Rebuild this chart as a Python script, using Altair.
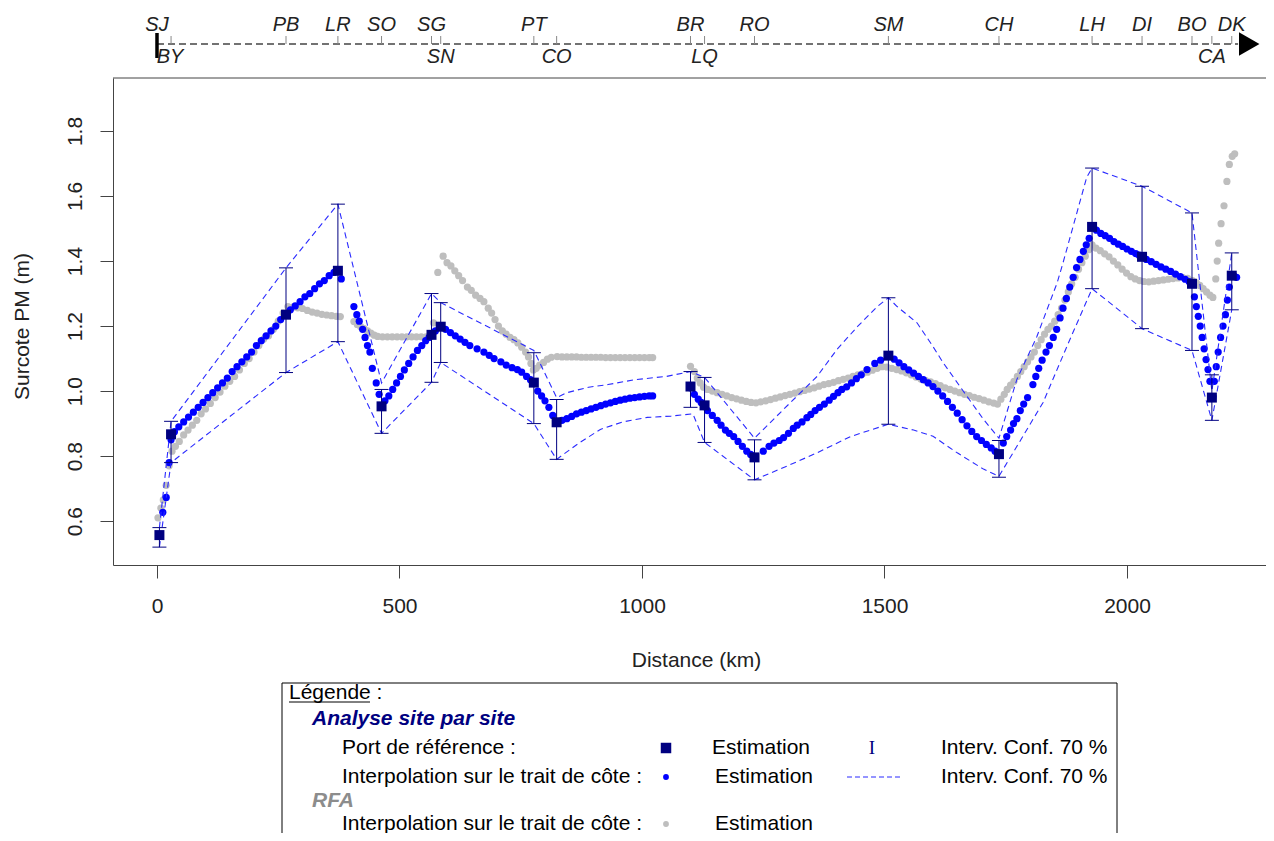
import altair as alt
import pandas as pd

# ---------------- data ----------------
site_names = ["SJ", "BY", "PB", "LR", "SO", "SG", "SN", "PT", "CO", "BR",
              "LQ", "RO", "SM", "CH", "LH", "DI", "BO", "CA", "DK"]
site_dist = [5, 29, 266, 373, 463, 566, 585, 777, 824, 1100,
             1129, 1232, 1508, 1736, 1928, 2031, 2134, 2175, 2216]
site_est = [0.557, 0.867, 1.235, 1.37, 0.953, 1.173, 1.198, 1.026, 0.904, 1.014,
            0.956, 0.796, 1.109, 0.806, 1.505, 1.413, 1.33, 0.98, 1.355]
site_lo = [0.52, 0.78, 1.057, 1.152, 0.87, 1.027, 1.088, 0.90, 0.79, 0.95,
           0.842, 0.727, 0.898, 0.735, 1.315, 1.192, 1.125, 0.91, 1.25]
site_hi = [0.58, 0.907, 1.379, 1.575, 1.005, 1.30, 1.272, 1.118, 0.974, 1.06,
           1.042, 0.85, 1.287, 0.848, 1.686, 1.63, 1.548, 1.05, 1.425]
site_label_pos = ["top", "bottom", "top", "top", "top", "top", "bottom", "top", "bottom", "top",
                  "bottom", "top", "top", "top", "top", "top", "top", "bottom", "top"]
label_dist = [0, 27, 266, 373, 463, 566, 585, 777, 824, 1100,
              1129, 1232, 1508, 1736, 1928, 2031, 2134, 2175, 2216]

blue_dist = [5, 12, 19, 25, 29, 36, 45, 55, 65, 75, 85, 95, 105, 115, 125, 135, 145, 155, 165, 175,
             185, 195, 205, 215, 225, 235, 245, 255, 265, 275, 285, 295, 305, 315, 325, 335, 345, 355,
             365, 373, 380,
             406, 412, 417, 424, 429, 434, 439, 444, 452, 458,
             470, 478, 486, 494, 502, 510, 519, 528, 537, 546, 554, 561,
             574, 595, 605, 615, 625, 635, 645, 660, 674, 685, 695, 709, 720, 732, 743, 752, 762, 770,
             785, 793, 800, 808, 816,
             835, 845, 855, 865, 875, 885, 895, 905, 915, 925, 935, 945, 955, 965, 975, 985, 995,
             1005, 1015, 1022,
             1100, 1108, 1116, 1122, 1135, 1145, 1155, 1163, 1172, 1180, 1189, 1198, 1207, 1216, 1224,
             1250, 1262, 1272, 1283, 1292, 1302, 1312, 1320, 1330, 1340, 1348, 1357, 1366, 1376, 1386,
             1395, 1404, 1412, 1422, 1432, 1442, 1452, 1464, 1480, 1492,
             1520, 1530, 1540, 1550, 1560, 1570, 1580, 1590, 1600, 1610, 1620, 1630, 1640, 1650, 1660,
             1670, 1680, 1690, 1700, 1710, 1720, 1728,
             1745, 1752, 1760, 1766, 1773, 1780, 1787, 1795, 1806, 1812, 1818, 1825, 1833, 1840, 1848,
             1855, 1862, 1868, 1875, 1882, 1889, 1896, 1903, 1910, 1916, 1922,
             1937, 1946, 1955, 1964, 1973, 1982, 1991, 2000, 2009, 2018, 2025, 2040, 2050, 2060, 2070,
             2080, 2090, 2100, 2110, 2120, 2128,
             2139, 2143, 2147, 2151, 2155, 2159, 2163, 2167, 2171,
             2180, 2184, 2188, 2193, 2198, 2203, 2207, 2211, 2220, 2226]
blue_val = [0.557, 0.627, 0.673, 0.78, 0.85, 0.875, 0.89, 0.905, 0.92, 0.935, 0.95, 0.965, 0.98, 0.995,
            1.01, 1.025, 1.04, 1.06, 1.075, 1.09, 1.105, 1.12, 1.14, 1.155, 1.17, 1.185, 1.20, 1.22,
            1.235, 1.25, 1.262, 1.275, 1.29, 1.30, 1.315, 1.33, 1.34, 1.355, 1.365, 1.37, 1.345,
            1.26, 1.235, 1.215, 1.19, 1.165, 1.14, 1.12, 1.07, 1.025, 0.99,
            0.97, 0.985, 1.005, 1.025, 1.045, 1.065, 1.085, 1.105, 1.125, 1.14, 1.155, 1.165,
            1.185, 1.19, 1.18, 1.17, 1.16, 1.15, 1.14, 1.13, 1.12, 1.11, 1.10, 1.09, 1.08, 1.072, 1.066,
            1.058, 1.045, 1.035,
            1.0, 0.985, 0.97, 0.95, 0.925,
            0.91, 0.915, 0.922, 0.93, 0.935, 0.94, 0.945, 0.95, 0.955, 0.96, 0.964, 0.968, 0.972, 0.975,
            0.978, 0.98, 0.982, 0.984, 0.985, 0.985,
            1.01, 0.99, 0.975, 0.965, 0.94, 0.925, 0.91, 0.895, 0.88, 0.87, 0.86, 0.845, 0.83, 0.815, 0.805,
            0.815, 0.83, 0.84, 0.848, 0.857, 0.87, 0.885, 0.895, 0.905, 0.918, 0.928, 0.94, 0.95, 0.96,
            0.972, 0.984, 0.995, 1.005, 1.013, 1.025, 1.038, 1.05, 1.066, 1.085, 1.095,
            1.098, 1.087, 1.075, 1.065, 1.055, 1.045, 1.035, 1.025, 1.014, 1.0, 0.985, 0.968, 0.95, 0.932,
            0.912, 0.893, 0.876, 0.86, 0.848, 0.836, 0.825, 0.815,
            0.84, 0.86, 0.88, 0.9, 0.915, 0.94, 0.96, 0.98, 1.02, 1.045, 1.07, 1.095, 1.12, 1.14, 1.165,
            1.19, 1.225, 1.255, 1.285, 1.32, 1.35, 1.38, 1.405, 1.43, 1.45, 1.47,
            1.495, 1.485, 1.478, 1.47, 1.46, 1.452, 1.445, 1.437, 1.43, 1.423, 1.418, 1.405, 1.398, 1.39,
            1.382, 1.375, 1.368, 1.36, 1.352, 1.344, 1.337,
            1.29, 1.26, 1.23, 1.2, 1.165, 1.13, 1.097, 1.066, 1.03,
            1.03, 1.075, 1.12, 1.165, 1.2, 1.235, 1.28, 1.32, 1.355, 1.35]

gray_dist = [2, 8, 13, 19, 25, 31, 38, 46, 55, 64, 73, 82, 91, 100, 110, 120, 130, 140, 150, 160, 170,
             180, 190, 200, 210, 220, 230, 240, 250, 260, 270, 280, 290, 300, 310, 320, 330, 340, 350,
             360, 370, 378,
             406, 413, 420, 427, 434, 441, 448, 455, 465, 475, 485, 495, 505, 515, 525, 535, 545, 555,
             563, 570,
             579, 590, 598, 606, 614, 622, 630, 640, 648, 657, 666, 674, 683, 690, 697, 704, 712, 720,
             728, 736, 744, 752, 760, 766, 771, 776, 782, 789, 797, 805, 813, 825, 835, 845, 855, 865,
             875, 885, 895, 905, 915, 925, 935, 945, 955, 965, 975, 985, 995, 1005, 1015, 1022,
             1100, 1108, 1114, 1120, 1127, 1135, 1145, 1155, 1165, 1175, 1185, 1195, 1205, 1215, 1225,
             1235, 1245, 1255, 1265, 1275, 1285, 1295, 1305, 1315, 1325, 1335, 1345, 1355, 1365, 1375,
             1385, 1395, 1405, 1415, 1425, 1435, 1445, 1455, 1465, 1475, 1485, 1495, 1505, 1515, 1525,
             1535, 1545, 1555, 1565, 1575, 1585, 1595, 1605, 1615, 1625, 1635, 1645, 1655, 1665, 1675,
             1685, 1695, 1705, 1715, 1725, 1733, 1740, 1747, 1753, 1760, 1767, 1774, 1781, 1788, 1795,
             1802, 1809, 1816, 1823, 1830, 1837, 1844, 1851, 1858, 1865, 1872, 1879, 1886, 1893, 1900,
             1907, 1914, 1921, 1928, 1936, 1945, 1954, 1963, 1972, 1981, 1990, 1999, 2008, 2017, 2026,
             2035, 2045, 2055, 2065, 2075, 2085, 2095, 2105, 2115, 2125, 2135, 2143, 2150, 2157, 2164,
             2171, 2177,
             2183, 2186, 2189, 2194, 2200, 2206, 2211, 2217, 2222]
gray_val = [0.61, 0.64, 0.665, 0.71, 0.77, 0.815, 0.83, 0.845, 0.865, 0.88, 0.895, 0.91, 0.93, 0.945,
            0.962, 0.98, 0.997, 1.015, 1.03, 1.045, 1.065, 1.085, 1.10, 1.12, 1.14, 1.16, 1.17, 1.19,
            1.215, 1.24, 1.26, 1.258, 1.256, 1.254, 1.248, 1.243, 1.24, 1.236, 1.234, 1.232, 1.23, 1.229,
            1.214, 1.205, 1.198, 1.192, 1.185, 1.178, 1.172, 1.168, 1.167, 1.167, 1.167, 1.167, 1.167,
            1.167, 1.167, 1.167, 1.167, 1.167, 1.167, 1.21,
            1.365, 1.415, 1.395, 1.385, 1.37, 1.355, 1.34, 1.32, 1.31, 1.295, 1.285, 1.275, 1.255, 1.24,
            1.22, 1.2, 1.185, 1.175, 1.165, 1.158, 1.148, 1.135, 1.12, 1.105, 1.085, 1.065, 1.07, 1.08,
            1.088, 1.098, 1.104, 1.106, 1.105, 1.105, 1.105, 1.105, 1.104, 1.104, 1.104, 1.104, 1.104,
            1.103, 1.103, 1.103, 1.103, 1.103, 1.103, 1.103, 1.103, 1.103, 1.103, 1.103,
            1.076, 1.06, 1.04, 1.025, 1.012, 1.005, 1.0, 0.995, 0.99, 0.985, 0.98, 0.976, 0.972, 0.968,
            0.965, 0.964, 0.967, 0.97, 0.974, 0.978, 0.982, 0.986, 0.99, 0.994, 0.998, 1.002, 1.006, 1.01,
            1.015, 1.02, 1.023, 1.027, 1.032, 1.036, 1.04, 1.045, 1.05, 1.054, 1.058, 1.064, 1.07, 1.075,
            1.074, 1.07, 1.066, 1.062, 1.056, 1.05, 1.043, 1.037, 1.032, 1.028, 1.023, 1.017, 1.01, 1.005,
            1.0, 0.995, 0.99, 0.986, 0.981, 0.977, 0.972, 0.967, 0.963, 0.96, 0.975, 0.99, 1.005, 1.018,
            1.03, 1.045, 1.06, 1.075, 1.09, 1.105, 1.12, 1.14, 1.158, 1.175, 1.19, 1.2, 1.215, 1.235,
            1.255, 1.28, 1.305, 1.33, 1.35, 1.375, 1.395, 1.415, 1.435, 1.45, 1.44, 1.432, 1.422, 1.413,
            1.4, 1.388, 1.375, 1.363, 1.352, 1.345, 1.34, 1.337, 1.336, 1.338, 1.34, 1.342, 1.344, 1.346,
            1.348, 1.349, 1.347, 1.34, 1.333, 1.325, 1.315, 1.305, 1.295, 1.288,
            1.345, 1.40, 1.455, 1.515, 1.57, 1.645, 1.697, 1.722, 1.73]

ci_up_dist = [5, 29, 266, 373, 463, 566, 585, 777, 824, 845, 890, 930, 985, 1050, 1100, 1129, 1232,
              1292, 1361, 1402, 1444, 1485, 1508, 1526, 1567, 1600, 1621, 1670, 1704, 1736, 1773,
              1814, 1856, 1868, 1917, 1928, 2031, 2134, 2175, 2216]
ci_up_val = [0.58, 0.907, 1.379, 1.575, 1.025, 1.30, 1.272, 1.125, 0.98, 0.995, 1.012, 1.02, 1.035,
             1.045, 1.06, 1.042, 0.855, 0.944, 1.045, 1.128, 1.198, 1.26, 1.287, 1.26, 1.21, 1.137,
             1.087, 0.984, 0.913, 0.855, 1.036, 1.167, 1.333, 1.394, 1.658, 1.686, 1.63, 1.548, 1.0,
             1.425]
ci_lo_dist = [5, 29, 266, 373, 463, 566, 585, 777, 824, 870, 914, 960, 1011, 1060, 1105, 1129, 1232,
              1300, 1361, 1430, 1508, 1560, 1600, 1650, 1704, 1736, 1773, 1827, 1876, 1928, 2031,
              2134, 2175, 2216]
ci_lo_val = [0.52, 0.78, 1.057, 1.152, 0.87, 1.027, 1.088, 0.90, 0.79, 0.84, 0.882, 0.905, 0.919,
             0.923, 0.93, 0.842, 0.727, 0.77, 0.81, 0.86, 0.898, 0.88, 0.861, 0.81, 0.76, 0.738, 0.83,
             0.965, 1.137, 1.315, 1.192, 1.125, 0.91, 1.25]

x_ticks = [0, 500, 1000, 1500, 2000]
y_ticks = [0.6, 0.8, 1.0, 1.2, 1.4, 1.6, 1.8]
x_domain = [-90.7, 2286.6]
y_domain = [0.465, 1.963]
strip_start, strip_end, arrow_at = 0, 2229, 2252

# ---------------- tables ----------------
ports = pd.DataFrame({"name": site_names, "d": site_dist, "v": site_est,
                      "lo": site_lo, "hi": site_hi})
labels = pd.DataFrame({"name": site_names, "d": label_dist, "pos": site_label_pos})
blue = pd.DataFrame({"d": blue_dist, "v": blue_val})
gray = pd.DataFrame({"d": gray_dist, "v": gray_val})
ci_up = pd.DataFrame({"d": ci_up_dist, "v": ci_up_val})
ci_lo = pd.DataFrame({"d": ci_lo_dist, "v": ci_lo_val})
strip = pd.DataFrame({"d": [strip_start], "d2": [strip_end]})
arrow = pd.DataFrame({"d": [arrow_at]})
one = pd.DataFrame({"k": [0]})

W, H = 1153, 487
FONT = "Liberation Sans"
NAVY = "#000080"
BLUE = "#0000FF"
GRAY = "#BEBEBE"
DASH = "#2B2BFF"
AX = "#444444"

xs = alt.Scale(domain=x_domain, nice=False, zero=False)
ys = alt.Scale(domain=y_domain, nice=False, zero=False)

x_axis = alt.Axis(values=x_ticks, format="d", grid=False, tickSize=13, tickColor=AX,
                  domainColor=AX, labelFontSize=21, labelColor="#222", labelFont=FONT,
                  labelPadding=17, labelFlush=False, title="Distance (km)", titleFont=FONT,
                  titleFontSize=21, titleFontWeight="normal", titleColor="#222",
                  titleX=583, titleY=95, titleAlign="center", titleBaseline="middle")
y_axis = alt.Axis(values=y_ticks, format=".1f", grid=False, tickSize=13, tickColor=AX,
                  domainColor=AX, labelFontSize=21, labelColor="#222", labelFont=FONT,
                  labelAngle=270, labelAlign="center", labelBaseline="middle",
                  labelPadding=25, labelFlush=False, title="Surcote PM (m)", titleFont=FONT,
                  titleFontSize=21, titleFontWeight="normal", titleColor="#222",
                  titleAngle=270, titleX=-91, titleY=248, titleAlign="center",
                  titleBaseline="middle")

X = alt.X("d:Q", scale=xs, axis=x_axis)


def Y(field):
    return alt.Y(field, type="quantitative", scale=ys, axis=y_axis)


gray_layer = alt.Chart(gray).mark_circle(size=52, color=GRAY, opacity=1).encode(x=X, y=Y("v"))
blue_layer = alt.Chart(blue).mark_circle(size=52, color=BLUE, opacity=1).encode(x=X, y=Y("v"))
up_layer = alt.Chart(ci_up).mark_line(color=DASH, strokeWidth=1.1, strokeDash=[6, 4]).encode(
    x=X, y=Y("v"))
lo_layer = alt.Chart(ci_lo).mark_line(color=DASH, strokeWidth=1.1, strokeDash=[6, 4]).encode(
    x=X, y=Y("v"))
bar_layer = alt.Chart(ports).mark_rule(color=NAVY, strokeWidth=1).encode(
    x=X, y=Y("lo"), y2="hi:Q")
cap_lo = alt.Chart(ports).mark_tick(color=NAVY, orient="horizontal", size=14, thickness=1,
                                    opacity=1).encode(x=X, y=Y("lo"))
cap_hi = alt.Chart(ports).mark_tick(color=NAVY, orient="horizontal", size=14, thickness=1,
                                    opacity=1).encode(x=X, y=Y("hi"))
sq_layer = alt.Chart(ports).mark_square(size=100, color=NAVY, opacity=1).encode(x=X, y=Y("v"))

# frame top line
frame_top = alt.Chart(one).mark_rule(color=AX, strokeWidth=1).encode(
    x=alt.value(0), x2=alt.value(W), y=alt.value(0))

# top strip (coastline axis)
strip_line = alt.Chart(strip).mark_rule(color="#444", strokeWidth=1.3, strokeDash=[7, 4]).encode(
    x=X, x2="d2:Q", y=alt.value(-34))
strip_ticks = alt.Chart(ports).transform_filter(alt.datum.name != "SJ").mark_rule(
    color="#888", strokeWidth=1).encode(x=X, y=alt.value(-42), y2=alt.value(-34))
strip_start_bar = alt.Chart(labels).transform_filter(alt.datum.name == "SJ").mark_rule(
    color="black", strokeWidth=3.5).encode(x=X, y=alt.value(-45), y2=alt.value(-20))
strip_arrow = alt.Chart(arrow).mark_point(shape="triangle-right", filled=True, size=560,
                                          color="black", opacity=1).encode(x=X, y=alt.value(-34))
lab_top = alt.Chart(labels).transform_filter(alt.datum.pos == "top").mark_text(
    font=FONT, fontSize=20, fontStyle="italic", color="#222", baseline="middle").encode(
    x=X, y=alt.value(-53), text="name:N")
lab_bot = alt.Chart(labels).transform_filter(alt.datum.pos == "bottom").mark_text(
    font=FONT, fontSize=20, fontStyle="italic", color="#222", baseline="middle").encode(
    x=X, y=alt.value(-21), text="name:N")


# legend box (pixel layout)
def ltext(t, px, py, color="black", weight="normal", style="normal", font=FONT, size=21,
          align="left"):
    return alt.Chart(one).mark_text(text=t, font=font, fontSize=size, fontWeight=weight,
                                    fontStyle=style, color=color, align=align,
                                    baseline="middle").encode(x=alt.value(px), y=alt.value(py))


legend_layers = [
    alt.Chart(one).mark_rect(fillOpacity=0, stroke="black", strokeWidth=1).encode(
        x=alt.value(169), x2=alt.value(1004), y=alt.value(605), y2=alt.value(820)),
    ltext("Légende :", 176, 615),
    alt.Chart(one).mark_rule(color="black", strokeWidth=1).encode(
        x=alt.value(176), x2=alt.value(257), y=alt.value(624)),
    ltext("Analyse site par site", 199, 641, color=NAVY, weight="bold", style="italic"),
    ltext("Port de référence :", 229, 670),
    alt.Chart(one).mark_square(size=110, color=NAVY, opacity=1).encode(
        x=alt.value(553), y=alt.value(670)),
    ltext("Estimation", 599, 670),
    ltext("I", 759, 670, color=NAVY, font="Liberation Serif", size=19, align="center"),
    ltext("Interv. Conf. 70 %", 828, 670),
    ltext("Interpolation sur le trait de côte :", 229, 699),
    alt.Chart(one).mark_circle(size=34, color=BLUE, opacity=1).encode(
        x=alt.value(553), y=alt.value(699)),
    ltext("Estimation", 602, 699),
    alt.Chart(one).mark_rule(color=DASH, strokeWidth=1, strokeDash=[5, 3]).encode(
        x=alt.value(734), x2=alt.value(789), y=alt.value(699)),
    ltext("Interv. Conf. 70 %", 828, 699),
    ltext("RFA", 199, 723, color="#8C8C8C", weight="bold", style="italic"),
    ltext("Interpolation sur le trait de côte :", 229, 746),
    alt.Chart(one).mark_circle(size=34, color=GRAY, opacity=1).encode(
        x=alt.value(553), y=alt.value(746)),
    ltext("Estimation", 602, 746),
]

chart = alt.layer(
    gray_layer, blue_layer, up_layer, lo_layer, bar_layer, cap_lo, cap_hi, sq_layer,
    frame_top, strip_line, strip_ticks, strip_start_bar, strip_arrow, lab_top, lab_bot,
    *legend_layers
).properties(
    width=W, height=H,
    autosize=alt.AutoSizeParams(type="none"),
    padding={"left": 105, "top": 70, "right": 0, "bottom": 268},
).configure_view(stroke="transparent").configure_text(font=FONT)

chart.save("out.html", embed_options={"renderer": "svg", "actions": False})
